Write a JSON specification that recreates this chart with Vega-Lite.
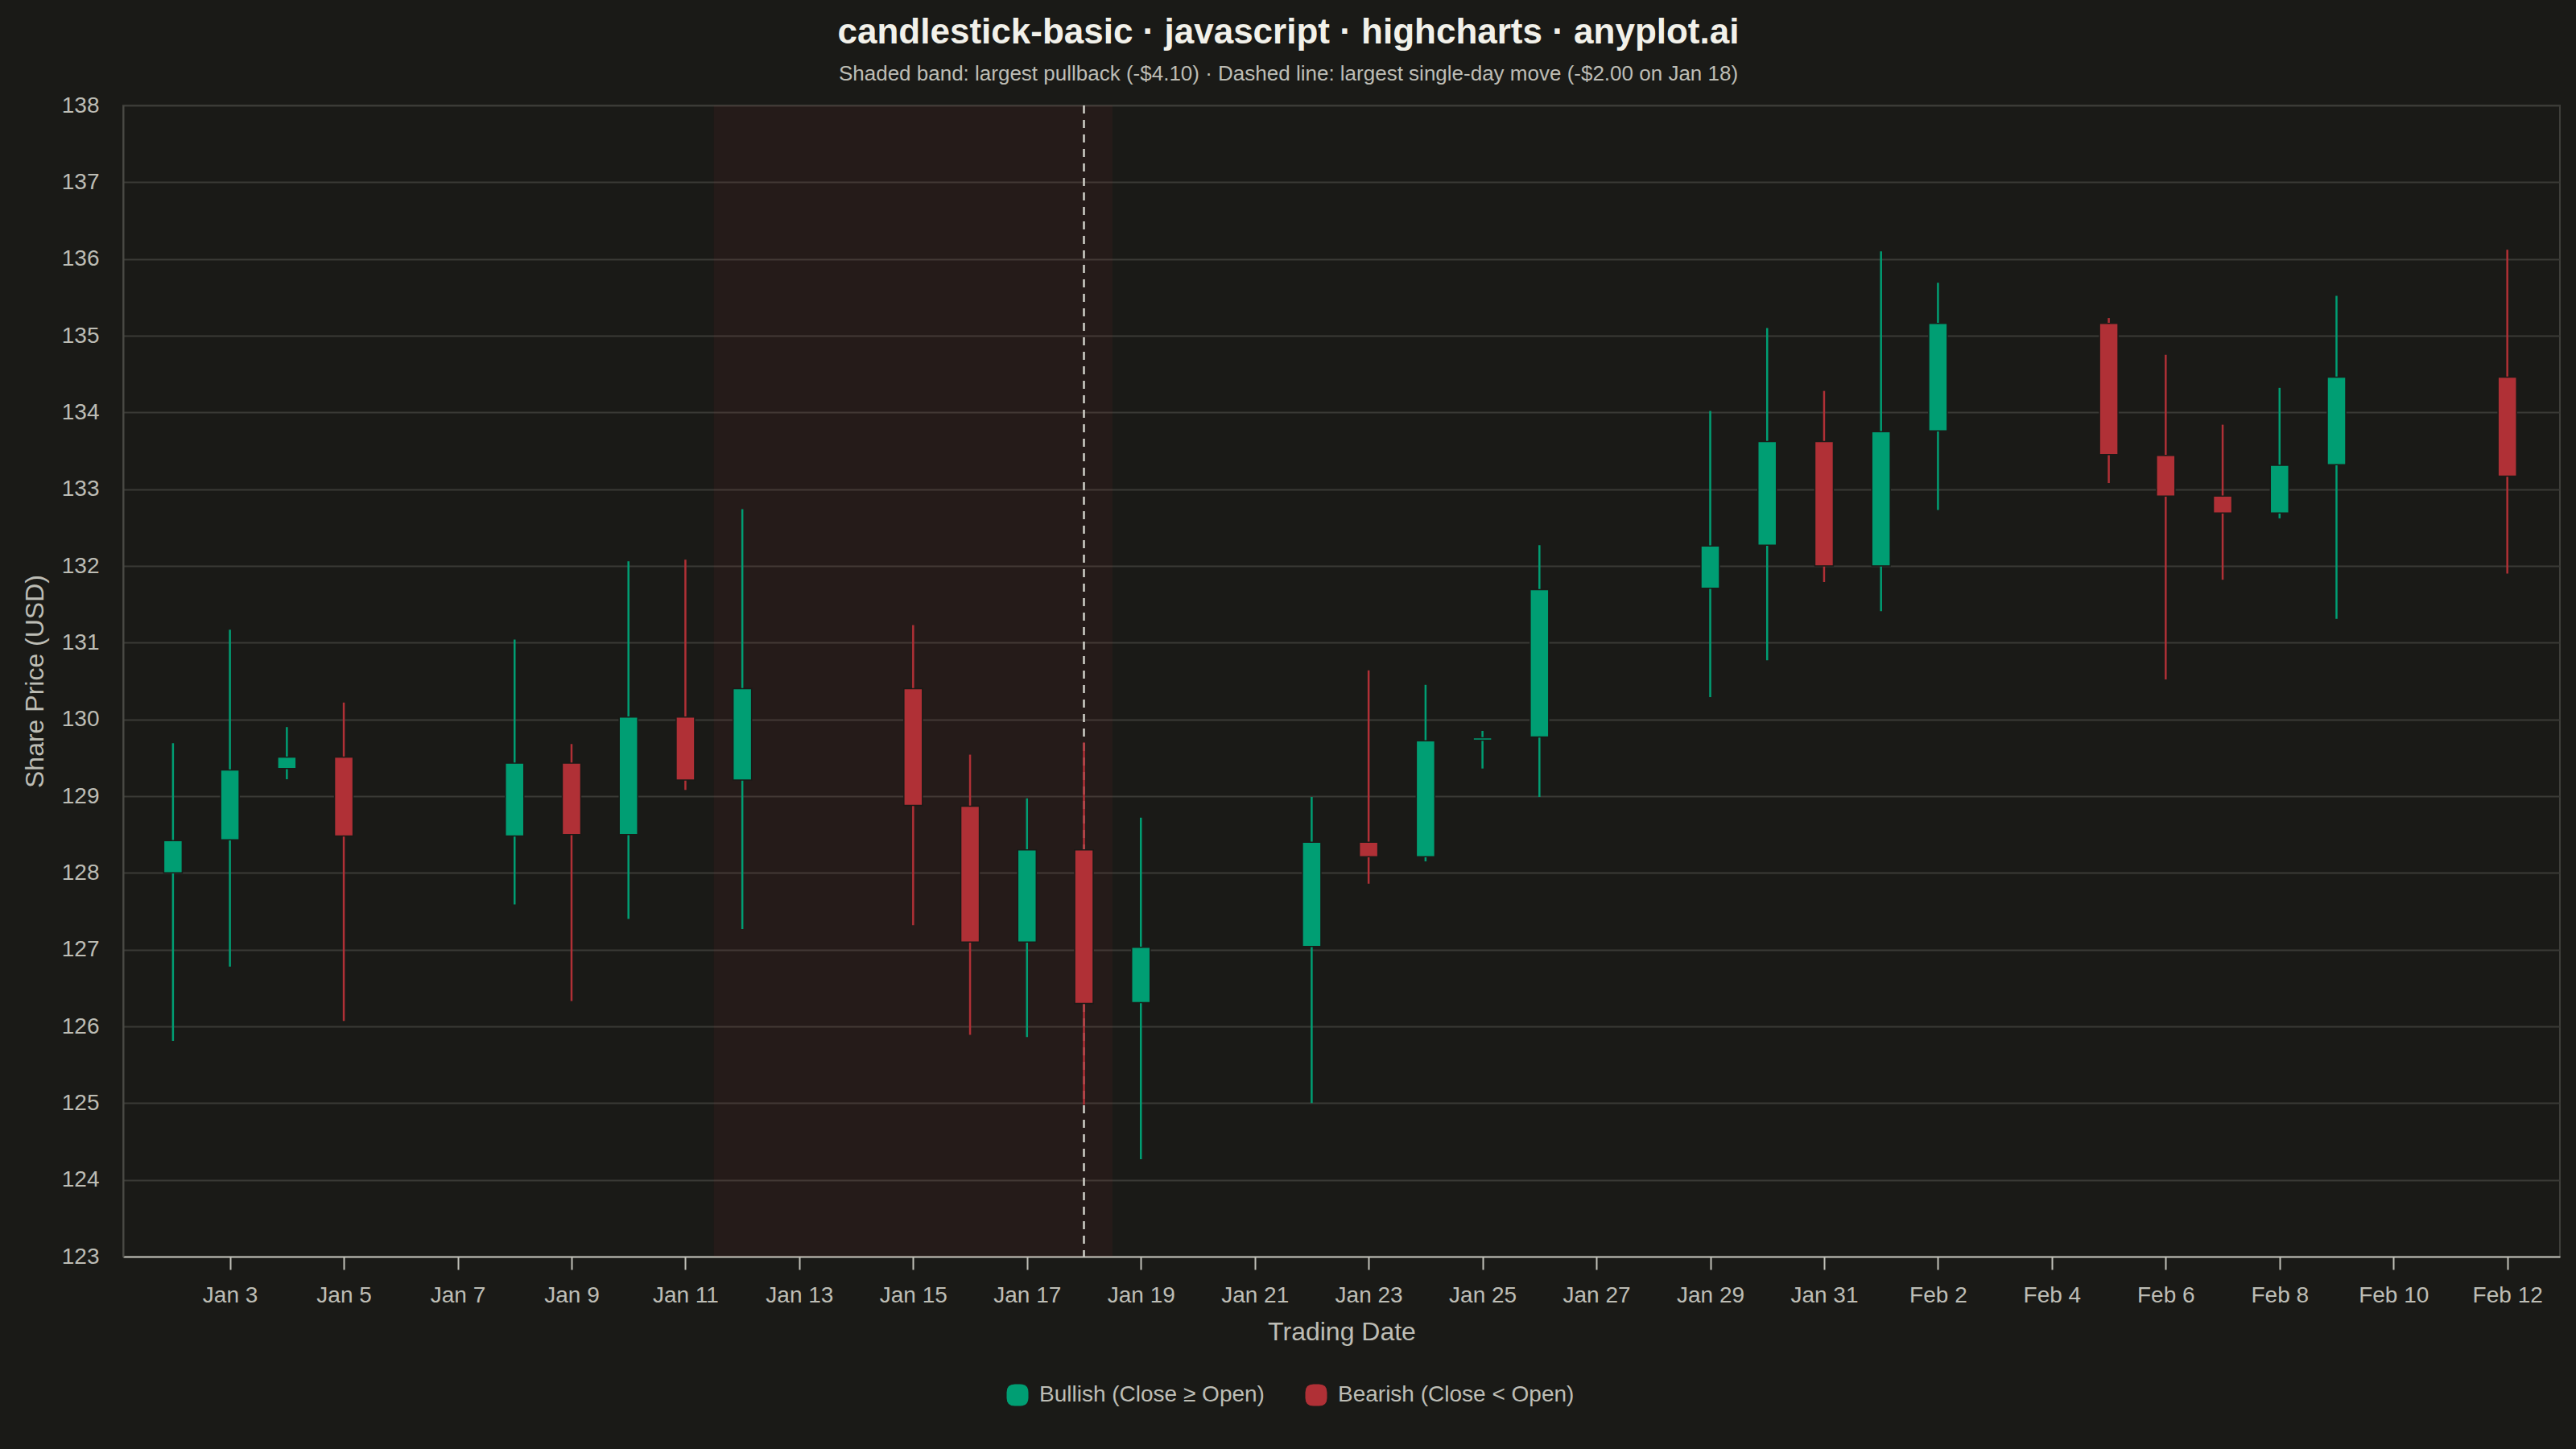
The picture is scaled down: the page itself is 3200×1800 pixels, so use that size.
{
  "$schema": "https://vega.github.io/schema/vega-lite/v6.json",
  "width": 3027,
  "height": 1430,
  "autosize": {"type": "none"},
  "padding": {"left": 153, "top": 131, "right": 20, "bottom": 239},
  "background": "#1a1a17",
  "config": {
    "font": "Liberation Sans",
    "view": {"stroke": "#3e3e3a", "strokeWidth": 2}
  },
  "title": {
    "text": "candlestick-basic · javascript · highcharts · anyplot.ai",
    "subtitle": "Shaded band: largest pullback (-$4.10) · Dashed line: largest single-day move (-$2.00 on Jan 18)",
    "font": "Liberation Sans",
    "fontSize": 44,
    "fontWeight": "bold",
    "color": "#f2f1ea",
    "subtitleFont": "Liberation Sans",
    "subtitleFontSize": 26,
    "subtitleColor": "#bdbdb5",
    "anchor": "middle",
    "offset": 12,
    "subtitlePadding": 16,
    "dx": -66
  },
  "datasets": {
    "candles": [
      {"date": "2024-01-02T00:00:00", "open": 128.00, "high": 129.69, "low": 125.81, "close": 128.42, "direction": "Bullish (Close ≥ Open)"},
      {"date": "2024-01-03T00:00:00", "open": 128.43, "high": 131.17, "low": 126.78, "close": 129.34, "direction": "Bullish (Close ≥ Open)"},
      {"date": "2024-01-04T00:00:00", "open": 129.36, "high": 129.90, "low": 129.22, "close": 129.51, "direction": "Bullish (Close ≥ Open)"},
      {"date": "2024-01-05T00:00:00", "open": 129.51, "high": 130.22, "low": 126.07, "close": 128.48, "direction": "Bearish (Close < Open)"},
      {"date": "2024-01-08T00:00:00", "open": 128.48, "high": 131.04, "low": 127.59, "close": 129.43, "direction": "Bullish (Close ≥ Open)"},
      {"date": "2024-01-09T00:00:00", "open": 129.43, "high": 129.68, "low": 126.33, "close": 128.50, "direction": "Bearish (Close < Open)"},
      {"date": "2024-01-10T00:00:00", "open": 128.50, "high": 132.06, "low": 127.40, "close": 130.03, "direction": "Bullish (Close ≥ Open)"},
      {"date": "2024-01-11T00:00:00", "open": 130.03, "high": 132.08, "low": 129.08, "close": 129.21, "direction": "Bearish (Close < Open)"},
      {"date": "2024-01-12T00:00:00", "open": 129.21, "high": 132.74, "low": 127.27, "close": 130.40, "direction": "Bullish (Close ≥ Open)"},
      {"date": "2024-01-15T00:00:00", "open": 130.40, "high": 131.23, "low": 127.32, "close": 128.88, "direction": "Bearish (Close < Open)"},
      {"date": "2024-01-16T00:00:00", "open": 128.87, "high": 129.54, "low": 125.89, "close": 127.10, "direction": "Bearish (Close < Open)"},
      {"date": "2024-01-17T00:00:00", "open": 127.10, "high": 128.97, "low": 125.86, "close": 128.30, "direction": "Bullish (Close ≥ Open)"},
      {"date": "2024-01-18T00:00:00", "open": 128.30, "high": 129.70, "low": 124.98, "close": 126.30, "direction": "Bearish (Close < Open)"},
      {"date": "2024-01-19T00:00:00", "open": 126.31, "high": 128.72, "low": 124.27, "close": 127.03, "direction": "Bullish (Close ≥ Open)"},
      {"date": "2024-01-22T00:00:00", "open": 127.04, "high": 128.99, "low": 125.00, "close": 128.40, "direction": "Bullish (Close ≥ Open)"},
      {"date": "2024-01-23T00:00:00", "open": 128.40, "high": 130.64, "low": 127.86, "close": 128.21, "direction": "Bearish (Close < Open)"},
      {"date": "2024-01-24T00:00:00", "open": 128.21, "high": 130.45, "low": 128.15, "close": 129.72, "direction": "Bullish (Close ≥ Open)"},
      {"date": "2024-01-25T00:00:00", "open": 129.73, "high": 129.85, "low": 129.36, "close": 129.76, "direction": "Bullish (Close ≥ Open)"},
      {"date": "2024-01-26T00:00:00", "open": 129.77, "high": 132.27, "low": 128.99, "close": 131.69, "direction": "Bullish (Close ≥ Open)"},
      {"date": "2024-01-29T00:00:00", "open": 131.71, "high": 134.02, "low": 130.29, "close": 132.26, "direction": "Bullish (Close ≥ Open)"},
      {"date": "2024-01-30T00:00:00", "open": 132.27, "high": 135.10, "low": 130.77, "close": 133.62, "direction": "Bullish (Close ≥ Open)"},
      {"date": "2024-01-31T00:00:00", "open": 133.62, "high": 134.28, "low": 131.79, "close": 132.00, "direction": "Bearish (Close < Open)"},
      {"date": "2024-02-01T00:00:00", "open": 132.00, "high": 136.10, "low": 131.41, "close": 133.75, "direction": "Bullish (Close ≥ Open)"},
      {"date": "2024-02-02T00:00:00", "open": 133.76, "high": 135.69, "low": 132.73, "close": 135.16, "direction": "Bullish (Close ≥ Open)"},
      {"date": "2024-02-05T00:00:00", "open": 135.16, "high": 135.23, "low": 133.08, "close": 133.45, "direction": "Bearish (Close < Open)"},
      {"date": "2024-02-06T00:00:00", "open": 133.44, "high": 134.75, "low": 130.52, "close": 132.91, "direction": "Bearish (Close < Open)"},
      {"date": "2024-02-07T00:00:00", "open": 132.91, "high": 133.84, "low": 131.82, "close": 132.69, "direction": "Bearish (Close < Open)"},
      {"date": "2024-02-08T00:00:00", "open": 132.69, "high": 134.32, "low": 132.62, "close": 133.31, "direction": "Bullish (Close ≥ Open)"},
      {"date": "2024-02-09T00:00:00", "open": 133.32, "high": 135.52, "low": 131.31, "close": 134.46, "direction": "Bullish (Close ≥ Open)"},
      {"date": "2024-02-12T00:00:00", "open": 134.46, "high": 136.12, "low": 131.90, "close": 133.17, "direction": "Bearish (Close < Open)"}
    ],
    "band": [
      {"start": "2024-01-11T12:00:00", "end": "2024-01-18T12:00:00"}
    ],
    "marker": [
      {"date": "2024-01-18T00:00:00"}
    ]
  },
  "layer": [
    {
      "data": {"name": "band"},
      "mark": {"type": "rect", "color": "#b03036", "opacity": 0.08},
      "encoding": {
        "x": {
          "field": "start",
          "type": "temporal",
          "scale": {"padding": 0, "domain": [{"year": 2024, "month": 1, "date": 1, "hours": 3, "minutes": 0}, {"year": 2024, "month": 2, "date": 12, "hours": 22, "minutes": 10}]},
          "axis": {
            "title": "Trading Date",
            "values": [
              {"year": 2024, "month": 1, "date": 3}, {"year": 2024, "month": 1, "date": 5}, {"year": 2024, "month": 1, "date": 7},
              {"year": 2024, "month": 1, "date": 9}, {"year": 2024, "month": 1, "date": 11}, {"year": 2024, "month": 1, "date": 13},
              {"year": 2024, "month": 1, "date": 15}, {"year": 2024, "month": 1, "date": 17}, {"year": 2024, "month": 1, "date": 19},
              {"year": 2024, "month": 1, "date": 21}, {"year": 2024, "month": 1, "date": 23}, {"year": 2024, "month": 1, "date": 25},
              {"year": 2024, "month": 1, "date": 27}, {"year": 2024, "month": 1, "date": 29}, {"year": 2024, "month": 1, "date": 31},
              {"year": 2024, "month": 2, "date": 2}, {"year": 2024, "month": 2, "date": 4}, {"year": 2024, "month": 2, "date": 6},
              {"year": 2024, "month": 2, "date": 8}, {"year": 2024, "month": 2, "date": 10}, {"year": 2024, "month": 2, "date": 12}
            ],
            "format": "%b %-d",
            "grid": false,
            "labelOverlap": false,
            "labelFlush": false,
            "tickSize": 16,
            "tickWidth": 2,
            "tickColor": "#c0c0b8",
            "domainColor": "#c0c0b8",
            "domainWidth": 2,
            "labelFont": "Liberation Sans",
            "labelFontSize": 28,
            "labelColor": "#bdbdb5",
            "labelPadding": 18,
            "titleFont": "Liberation Sans",
            "titleFontSize": 32,
            "titleFontWeight": "normal",
            "titleColor": "#bdbdb5",
            "titlePadding": 16
          }
        },
        "x2": {"field": "end"}
      }
    },
    {
      "data": {"name": "marker"},
      "mark": {"type": "rule", "color": "#d0d0c8", "strokeWidth": 2.5, "strokeDash": [10, 8]},
      "encoding": {
        "x": {"field": "date", "type": "temporal", "scale": {"padding": 0, "domain": [{"year": 2024, "month": 1, "date": 1, "hours": 3, "minutes": 0}, {"year": 2024, "month": 2, "date": 12, "hours": 22, "minutes": 10}]}}
      }
    },
    {
      "data": {"name": "candles"},
      "mark": {"type": "rule", "strokeWidth": 2.5},
      "encoding": {
        "x": {"field": "date", "type": "temporal", "scale": {"padding": 0, "domain": [{"year": 2024, "month": 1, "date": 1, "hours": 3, "minutes": 0}, {"year": 2024, "month": 2, "date": 12, "hours": 22, "minutes": 10}]}},
        "y": {
          "field": "low",
          "type": "quantitative",
          "scale": {"domain": [123, 138], "nice": false, "zero": false},
          "axis": {
            "title": "Share Price (USD)",
            "values": [123, 124, 125, 126, 127, 128, 129, 130, 131, 132, 133, 134, 135, 136, 137, 138],
            "format": "d",
            "grid": true,
            "gridColor": "#3a3a36",
            "gridWidth": 2,
            "ticks": false,
            "tickSize": 0,
            "domainColor": "#4a4a45",
            "domainWidth": 2,
            "labelFont": "Liberation Sans",
            "labelFontSize": 28,
            "labelColor": "#bdbdb5",
            "labelPadding": 30,
            "titleFont": "Liberation Sans",
            "titleFontSize": 32,
            "titleFontWeight": "normal",
            "titleColor": "#bdbdb5",
            "titlePadding": 16
          }
        },
        "y2": {"field": "high"},
        "color": {
          "field": "direction",
          "type": "nominal",
          "scale": {"domain": ["Bullish (Close ≥ Open)", "Bearish (Close < Open)"], "range": ["#009e73", "#b03036"]},
          "legend": {
            "title": null,
            "orient": "none",
            "legendX": 1097,
            "legendY": 1588,
            "direction": "horizontal",
            "symbolType": "M -0.25 -1 L 0.25 -1 Q 1 -1 1 -0.25 L 1 0.25 Q 1 1 0.25 1 L -0.25 1 Q -1 1 -1 0.25 L -1 -0.25 Q -1 -1 -0.25 -1 Z",
            "symbolSize": 729,
            "symbolStrokeWidth": 0,
            "symbolOpacity": 1,
            "labelFont": "Liberation Sans",
            "labelFontSize": 28,
            "labelColor": "#bdbdb5",
            "labelOffset": 13,
            "labelLimit": 0,
            "columnPadding": 50
          }
        }
      }
    },
    {
      "data": {"name": "candles"},
      "mark": {"type": "bar", "width": 23, "stroke": "#1a1a17", "strokeWidth": 1.5},
      "encoding": {
        "x": {"field": "date", "type": "temporal", "scale": {"padding": 0, "domain": [{"year": 2024, "month": 1, "date": 1, "hours": 3, "minutes": 0}, {"year": 2024, "month": 2, "date": 12, "hours": 22, "minutes": 10}]}},
        "y": {"field": "open", "type": "quantitative", "scale": {"domain": [123, 138], "nice": false, "zero": false}},
        "y2": {"field": "close"},
        "color": {
          "field": "direction",
          "type": "nominal",
          "scale": {"domain": ["Bullish (Close ≥ Open)", "Bearish (Close < Open)"], "range": ["#009e73", "#b03036"]},
          "legend": {
            "title": null,
            "orient": "none",
            "legendX": 1097,
            "legendY": 1588,
            "direction": "horizontal",
            "symbolType": "M -0.25 -1 L 0.25 -1 Q 1 -1 1 -0.25 L 1 0.25 Q 1 1 0.25 1 L -0.25 1 Q -1 1 -1 0.25 L -1 -0.25 Q -1 -1 -0.25 -1 Z",
            "symbolSize": 729,
            "symbolStrokeWidth": 0,
            "symbolOpacity": 1,
            "labelFont": "Liberation Sans",
            "labelFontSize": 28,
            "labelColor": "#bdbdb5",
            "labelOffset": 13,
            "labelLimit": 0,
            "columnPadding": 50
          }
        }
      }
    }
  ]
}
